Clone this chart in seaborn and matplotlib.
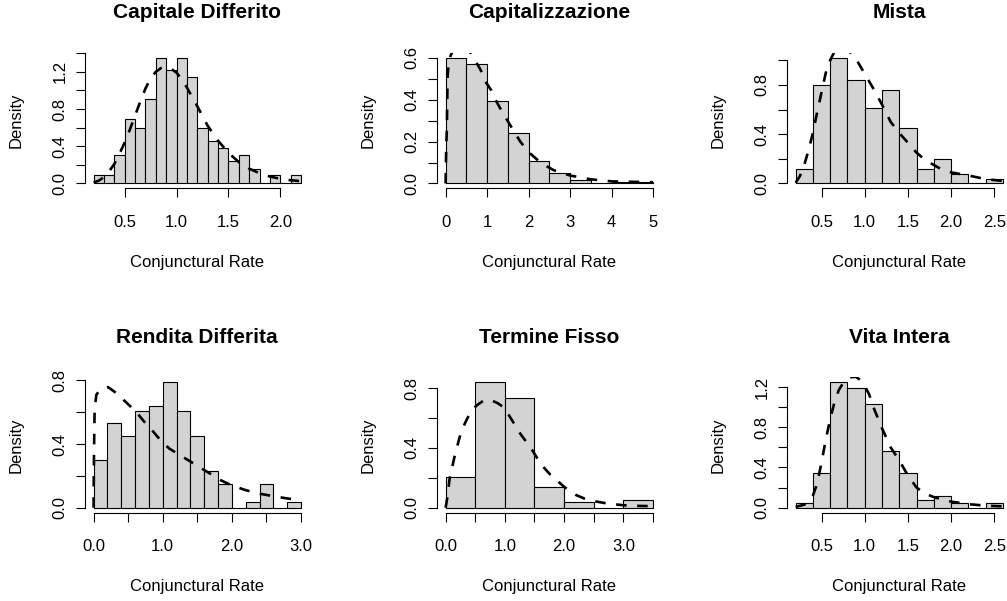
import matplotlib
matplotlib.use("Agg")
import matplotlib.pyplot as plt
import seaborn as sns
import numpy as np
import pandas as pd

# ---------------- data ----------------
titles = ["Capitale Differito", "Capitalizzazione", "Mista",
          "Rendita Differita", "Termine Fisso", "Vita Intera"]

# Capitale Differito
cd_edges = [0.2, 0.3, 0.4, 0.5, 0.6, 0.7, 0.8, 0.9, 1.0, 1.1, 1.2, 1.3, 1.4, 1.5,
            1.6, 1.7, 1.8, 1.9, 2.0, 2.1, 2.2]
cd_dens = [0.086, 0.086, 0.31, 0.69, 0.60, 0.91, 1.35, 1.22, 1.35, 1.14, 0.60, 0.46,
           0.38, 0.24, 0.31, 0.16, 0.0, 0.086, 0.0, 0.086]
cd_cx = [0.2, 0.25, 0.3, 0.35, 0.4, 0.45, 0.5, 0.55, 0.6, 0.65, 0.7, 0.75, 0.8, 0.85,
         0.9, 0.95, 1.0, 1.05, 1.1, 1.2, 1.3, 1.4, 1.5, 1.6, 1.7, 1.8, 1.9, 2.0, 2.1, 2.2]
cd_cy = [0.01, 0.03, 0.07, 0.13, 0.21, 0.32, 0.44, 0.58, 0.73, 0.88, 1.02, 1.13, 1.2,
         1.24, 1.25, 1.23, 1.19, 1.12, 1.03, 0.83, 0.62, 0.46, 0.33, 0.23, 0.16, 0.11,
         0.075, 0.05, 0.035, 0.025]

# Capitalizzazione
cp_edges = [0.0, 0.5, 1.0, 1.5, 2.0, 2.5, 3.0, 3.5, 4.0, 4.5, 5.0]
cp_dens = [0.60, 0.569, 0.395, 0.243, 0.106, 0.048, 0.016, 0.004, 0.008, 0.008]
cp_cx = [0.0, 0.008, 0.017, 0.03, 0.04, 0.05, 0.08, 0.12, 0.2, 0.35, 0.5, 0.62, 0.75,
         0.85, 0.95, 1.1, 1.2, 1.4, 1.6, 1.8, 2.0, 2.3, 2.6, 3.0, 3.5, 4.0, 4.5, 5.0]
cp_cy = [0.0, 0.1, 0.18, 0.26, 0.40, 0.52, 0.58, 0.61, 0.645, 0.665, 0.645, 0.62, 0.575,
         0.54, 0.49, 0.445, 0.40, 0.33, 0.265, 0.2, 0.15, 0.098, 0.064, 0.038, 0.02,
         0.01, 0.008, 0.006]

# Mista
mi_edges = [0.2, 0.4, 0.6, 0.8, 1.0, 1.2, 1.4, 1.6, 1.8, 2.0, 2.2, 2.4, 2.6]
mi_dens = [0.12, 0.80, 1.02, 0.84, 0.61, 0.76, 0.45, 0.12, 0.195, 0.08, 0.0, 0.04]
mi_cx = [0.2, 0.25, 0.3, 0.35, 0.4, 0.45, 0.5, 0.55, 0.6, 0.65, 0.7, 0.75, 0.8, 0.85,
         0.9, 0.95, 1.0, 1.1, 1.2, 1.3, 1.4, 1.5, 1.6, 1.7, 1.8, 1.9, 2.0, 2.2, 2.4, 2.6]
mi_cy = [0.005, 0.06, 0.15, 0.27, 0.41, 0.58, 0.74, 0.90, 1.0, 1.07, 1.1, 1.11, 1.09,
         1.05, 1.01, 0.95, 0.89, 0.77, 0.64, 0.50, 0.41, 0.33, 0.25, 0.19, 0.15, 0.11,
         0.09, 0.065, 0.035, 0.02]

# Rendita Differita
rd_edges = [0.0, 0.2, 0.4, 0.6, 0.8, 1.0, 1.2, 1.4, 1.6, 1.8, 2.0, 2.2, 2.4, 2.6, 2.8, 3.0]
rd_dens = [0.30, 0.53, 0.45, 0.61, 0.64, 0.79, 0.61, 0.45, 0.23, 0.15, 0.0, 0.038,
           0.15, 0.0, 0.038]
rd_cx = [0.0, 0.002, 0.006, 0.015, 0.04, 0.1, 0.21, 0.33, 0.5, 0.6, 0.74, 0.83, 0.975,
         1.1, 1.25, 1.4, 1.55, 1.7, 1.85, 2.0, 2.2, 2.4, 2.6, 2.8, 3.0]
rd_cy = [0.0, 0.15, 0.35, 0.62, 0.71, 0.745, 0.758, 0.72, 0.65, 0.61, 0.537, 0.495,
         0.42, 0.37, 0.33, 0.29, 0.25, 0.21, 0.17, 0.14, 0.11, 0.088, 0.072, 0.058, 0.047]

# Termine Fisso
tf_edges = [0.0, 0.5, 1.0, 1.5, 2.0, 2.5, 3.0, 3.5]
tf_dens = [0.204, 0.842, 0.736, 0.136, 0.035, 0.0, 0.053]
tf_cx = [0.0, 0.03, 0.07, 0.15, 0.235, 0.32, 0.43, 0.54, 0.65, 0.77, 0.88, 0.99, 1.13,
         1.27, 1.44, 1.61, 1.77, 2.0, 2.2, 2.35, 2.5, 2.7, 3.0, 3.25, 3.5]
tf_cy = [0.0, 0.07, 0.20, 0.34, 0.47, 0.56, 0.65, 0.69, 0.72, 0.72, 0.70, 0.67, 0.58,
         0.49, 0.40, 0.29, 0.22, 0.14, 0.085, 0.06, 0.044, 0.03, 0.016, 0.012, 0.01]

# Vita Intera
vi_edges = [0.2, 0.4, 0.6, 0.8, 1.0, 1.2, 1.4, 1.6, 1.8, 2.0, 2.2, 2.4, 2.6]
vi_dens = [0.046, 0.346, 1.25, 1.19, 1.03, 0.568, 0.346, 0.079, 0.112, 0.046, 0.0, 0.046]
vi_cx = [0.2, 0.3, 0.35, 0.4, 0.45, 0.5, 0.55, 0.6, 0.65, 0.7, 0.75, 0.8, 0.85, 0.9,
         0.95, 1.0, 1.05, 1.1, 1.2, 1.3, 1.4, 1.5, 1.6, 1.7, 1.8, 1.9, 2.0, 2.2, 2.4, 2.6]
vi_cy = [0.007, 0.03, 0.06, 0.12, 0.24, 0.45, 0.68, 0.88, 1.05, 1.17, 1.24, 1.28, 1.30,
         1.30, 1.27, 1.21, 1.13, 1.0, 0.79, 0.6, 0.47, 0.32, 0.2, 0.14, 0.105, 0.08,
         0.06, 0.035, 0.02, 0.013]

# axis ticks / labels
x_ticks = [
    [0.5, 1.0, 1.5, 2.0],
    [0, 1, 2, 3, 4, 5],
    [0.5, 1.0, 1.5, 2.0, 2.5],
    [0.0, 0.5, 1.0, 1.5, 2.0, 2.5, 3.0],
    [0.0, 0.5, 1.0, 1.5, 2.0, 2.5, 3.0, 3.5],
    [0.5, 1.0, 1.5, 2.0, 2.5],
]
x_labels = [
    ["0.5", "1.0", "1.5", "2.0"],
    ["0", "1", "2", "3", "4", "5"],
    ["0.5", "1.0", "1.5", "2.0", "2.5"],
    ["0.0", "", "1.0", "", "2.0", "", "3.0"],
    ["0.0", "", "1.0", "", "2.0", "", "3.0", ""],
    ["0.5", "1.0", "1.5", "2.0", "2.5"],
]
y_ticks = [
    [0.0, 0.2, 0.4, 0.6, 0.8, 1.0, 1.2, 1.4],
    [0.0, 0.1, 0.2, 0.3, 0.4, 0.5, 0.6],
    [0.0, 0.2, 0.4, 0.6, 0.8, 1.0],
    [0.0, 0.2, 0.4, 0.6, 0.8],
    [0.0, 0.2, 0.4, 0.6, 0.8],
    [0.0, 0.2, 0.4, 0.6, 0.8, 1.0, 1.2],
]
y_labels = [
    ["0.0", "", "0.4", "", "0.8", "", "1.2", ""],
    ["0.0", "", "0.2", "", "0.4", "", "0.6"],
    ["0.0", "", "0.4", "", "0.8", ""],
    ["0.0", "", "0.4", "", "0.8"],
    ["0.0", "", "0.4", "", "0.8"],
    ["0.0", "", "0.4", "", "0.8", "", "1.2"],
]

panels = [
    (cd_edges, cd_dens, cd_cx, cd_cy),
    (cp_edges, cp_dens, cp_cx, cp_cy),
    (mi_edges, mi_dens, mi_cx, mi_cy),
    (rd_edges, rd_dens, rd_cx, rd_cy),
    (tf_edges, tf_dens, tf_cx, tf_cy),
    (vi_edges, vi_dens, vi_cx, vi_cy),
]

# ---------------- style ----------------
sns.set_style("white")
plt.rcParams["font.family"] = ["Liberation Sans", "DejaVu Sans"]

W, H = 1007, 601
fig = plt.figure(figsize=(W / 100, H / 100), dpi=100)
fig.patch.set_facecolor("white")

col_left = [85.3, 437.3, 787.3]
row_top = [52.8, 377.0]
AX_W, AX_H = 224.0, 135.7
LAB = 12.0
TIT = 15.0

for i, (edges, dens, cx, cy) in enumerate(panels):
    r, c = divmod(i, 3)
    L, T = col_left[c], row_top[r]
    ax = fig.add_axes([L / W, 1 - (T + AX_H) / H, AX_W / W, AX_H / H])
    ax.set_facecolor("white")

    e = np.asarray(edges, dtype=float)
    hist_df = pd.DataFrame({"center": (e[:-1] + e[1:]) / 2, "dens": dens})
    sns.histplot(data=hist_df, x="center", weights="dens", bins=list(edges),
                 stat="count", ax=ax, color="#D3D3D3", edgecolor="black",
                 linewidth=0.8, alpha=1.0, shrink=1.0)
    curve_df = pd.DataFrame({"x": cx, "y": cy})
    sns.lineplot(data=curve_df, x="x", y="y", ax=ax, color="black", linewidth=1.9,
                 linestyle=(0, (4, 4)), estimator=None, sort=False)

    lo, hi = e[0], e[-1]
    xr = hi - lo
    ymax = max(dens)
    ax.set_xlim(lo - 0.04 * xr, hi + 0.04 * xr)
    ax.set_ylim(-0.04 * ymax, 1.04 * ymax)

    for s in ["top", "right"]:
        ax.spines[s].set_visible(False)
    for s in ["left", "bottom"]:
        ax.spines[s].set_visible(True)
        ax.spines[s].set_linewidth(0.8)
        ax.spines[s].set_color("black")
    ax.spines["left"].set_bounds(y_ticks[i][0], y_ticks[i][-1])
    ax.spines["bottom"].set_bounds(x_ticks[i][0], x_ticks[i][-1])

    ax.set_xticks(x_ticks[i])
    ax.set_xticklabels(x_labels[i])
    ax.set_yticks(y_ticks[i])
    ax.set_yticklabels(y_labels[i])
    ax.tick_params(axis="both", direction="out", length=6.8, width=0.8,
                   color="black", labelsize=LAB, labelcolor="black")
    ax.tick_params(axis="x", pad=12.0, bottom=True)
    ax.tick_params(axis="y", pad=6.0, left=True)
    for lbl in ax.get_yticklabels():
        lbl.set_rotation(90)
        lbl.set_va("center")
        lbl.set_ha("right")
    ax.set_xlabel("")
    ax.set_ylabel("")
    ax.grid(False)

    cxp = L + AX_W / 2
    fig.text(cxp / W, 1 - (T - 34.5) / H, titles[i], ha="center", va="baseline",
             fontsize=TIT, fontweight="bold", color="black")
    fig.text(cxp / W, 1 - (T + AX_H + 78.0) / H, "Conjunctural Rate", ha="center",
             va="baseline", fontsize=LAB, color="black")
    fig.text((L - 69.0) / W, 1 - (T + AX_H / 2) / H, "Density", ha="center",
             va="center", rotation=90, fontsize=LAB, color="black")

fig.savefig("out.png", dpi=100, facecolor="white")
